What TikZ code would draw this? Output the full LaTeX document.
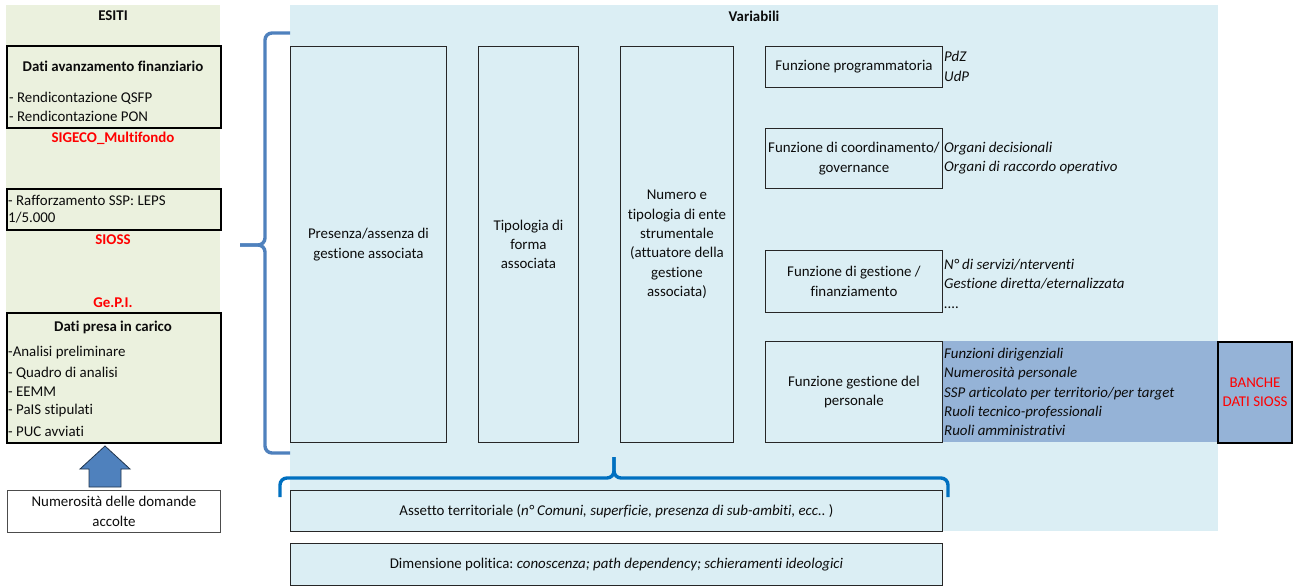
\documentclass[tikz,border=0pt]{standalone}
\usepackage{fontspec}
\setmainfont{Carlito}[Ligatures=NoCommon]
\frenchspacing
\definecolor{greenbg}{RGB}{235,241,222}
\definecolor{lightblue}{RGB}{219,238,244}
\definecolor{midblue}{RGB}{149,179,215}
\definecolor{bracea}{RGB}{79,129,189}
\definecolor{braceb}{RGB}{0,112,192}
\definecolor{arrowblue}{RGB}{79,129,189}
\definecolor{redtxt}{RGB}{255,0,0}
\definecolor{txt}{RGB}{12,12,12}
\newcommand{\fs}{\fontsize{14.9}{19.4}\selectfont}
\begin{document}
\begin{tikzpicture}[x=1pt,y=-1pt,
  font=\fs, text=txt,
  lbbox/.style={draw=black!85, line width=0.9pt, fill=lightblue, anchor=north west, inner sep=1pt, align=center},
  grbox/.style={draw=black, line width=1.9pt, anchor=north west, inner sep=0pt},
  lefttxt/.style={anchor=west, inner sep=0pt},
  itlist/.style={anchor=west, inner sep=0pt, align=left, font=\fs\itshape},
  redlbl/.style={text=redtxt, font=\fs\bfseries, inner sep=0pt},
  boldlbl/.style={font=\fs\bfseries, inner sep=0pt},
  bracestyle/.style={line width=3.4pt, rounded corners=7pt}]
\useasboundingbox (0,0) rectangle (1297,586);
\fill[white] (0,0) rectangle (1297,586);
% panels
\fill[greenbg] (6,5) rectangle (220,443);
\fill[lightblue] (290,5) rectangle (1218,531);
\node[boldlbl] (esiti) at (113,16) {ESITI};
\node[boldlbl] (variabili) at (754,16) {Variabili};
% left boxes
\node[grbox, minimum width=214pt, minimum height=82pt] (d1) at (6,45) {};
\node[boldlbl] (d1t) at (113,66) {Dati avanzamento finanziario};
\node[lefttxt] (d1a) at (9,98) {- Rendicontazione QSFP};
\node[lefttxt] (d1b) at (9,116) {- Rendicontazione PON};
\node[redlbl] (sigeco) at (113,138) {SIGECO\_Multifondo};
\node[grbox, minimum width=214pt, minimum height=41pt] (d2) at (6,188) {};
\node[lefttxt] (d2a) at (8,200) {- Rafforzamento SSP: LEPS};
\node[lefttxt] (d2b) at (8,218) {1/5.000};
\node[redlbl] (sioss) at (113,240) {SIOSS};
\node[redlbl] (gepi) at (113,303) {Ge.P.I.};
\node[grbox, minimum width=214pt, minimum height=130pt] (d3) at (6,312) {};
\node[boldlbl] (d3t) at (113,327) {Dati presa in carico};
\node[lefttxt] (d3a) at (8,353) {-Analisi preliminare};
\node[lefttxt] (d3b) at (8,373) {- Quadro di analisi};
\node[lefttxt] (d3c) at (8,392) {- EEMM};
\node[lefttxt] (d3d) at (8,411) {- PaIS stipulati};
\node[lefttxt] (d3e) at (8,431) {- PUC avviati};
\node[draw=black!70, line width=0.9pt, fill=white, anchor=north west, minimum width=213pt, minimum height=42pt, align=center, inner sep=1pt] (num) at (7,490) {Numerosità delle domande\\accolte};
% block arrow
\draw[fill=arrowblue, draw=black!60!arrowblue, line width=0.8pt]
  (105,446) -- (130,469) -- (121,469) -- (121,487) -- (89,487) -- (89,469) -- (80,469) -- cycle;
% braces
\draw[bracea, bracestyle] (290,33) -- (265,33) -- (265,245) -- (240,245);
\draw[bracea, bracestyle] (240,245) -- (265,245) -- (265,453) -- (290,453);
\draw[braceb, bracestyle] (280,497) -- (280,478) -- (614,478) -- (614,457);
\draw[braceb, bracestyle] (614,457) -- (614,478) -- (948,478) -- (948,497);
% medium blue band
\fill[midblue] (942,341) rectangle (1218,442);
% variable boxes
\node[lbbox, minimum width=156pt, minimum height=396pt] (pres) at (290,46) {Presenza/assenza di\\gestione associata};
\node[lbbox, minimum width=100pt, minimum height=396pt] (tipo) at (478,46) {Tipologia di\\forma\\associata};
\node[lbbox, minimum width=113pt, minimum height=396pt] (nume) at (620,46) {Numero e\\tipologia di ente\\strumentale\\(attuatore della\\gestione\\associata)};
\node[lbbox, minimum width=177pt, minimum height=41pt] (fprog) at (765,46) {Funzione programmatoria};
\node[lbbox, minimum width=177pt, minimum height=60pt] (fcoord) at (765,128) {Funzione di coordinamento/\\governance};
\node[lbbox, minimum width=177pt, minimum height=62pt] (fgest) at (765,250) {Funzione di gestione /\\finanziamento};
\node[lbbox, minimum width=177pt, minimum height=101pt] (fpers) at (765,341) {Funzione gestione del\\personale};
% italic lists
\node[itlist] (lprog) at (944,66.5) {PdZ\\UdP};
\node[itlist] (lcoord) at (944,158) {Organi decisionali\\Organi di raccordo operativo};
\node[itlist] (lgest) at (944,283.5) {N° di servizi/nterventi\\Gestione diretta/eternalizzata\\....};
\node[itlist] (lpers) at (944,392) {Funzioni dirigenziali\\Numerosità personale\\SSP articolato per territorio/per target\\Ruoli tecnico-professionali\\Ruoli amministrativi};
% banche dati
\node[draw=black, line width=2pt, fill=midblue, anchor=north west, minimum width=74pt, minimum height=101pt, align=center, text=redtxt, inner sep=1pt] (banche) at (1217,341) {BANCHE\\DATI SIOSS};
% bottom boxes
\node[lbbox, minimum width=652pt, minimum height=41pt] (assetto) at (290,490) {Assetto territoriale (\textit{n° Comuni, superficie, presenza di sub-ambiti, ecc..} )};
\node[lbbox, minimum width=652pt, minimum height=42pt] (dimens) at (290,543) {Dimensione politica: \textit{conoscenza; path dependency; schieramenti ideologici}};
\end{tikzpicture}
\end{document}
